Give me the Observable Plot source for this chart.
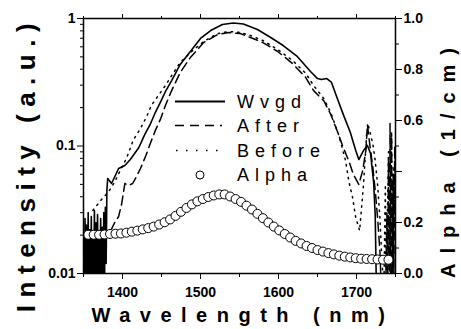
<!DOCTYPE html>
<html><head><meta charset="utf-8">
<script src="https://cdn.jsdelivr.net/npm/d3@7"></script>
<script src="https://cdn.jsdelivr.net/npm/@observablehq/plot@0.6"></script>
<style>body{margin:0;background:#fff} svg{display:block}</style>
</head><body><div id="chart"></div>
<script>
// Wvgd (solid) : wavelength (nm), intensity (a.u.)
const wvgdWl = [1350,1351,1352,1353,1354,1355,1356,1357,1358,1359,1360,1361,1362,1363,1364,1365,1366,1367,1368,1369,1370,1371,1372,1373,1374,1375,1376,1377,1378,1379,1380,
  1381,1386,1395,1403,1410,1421,1428,1436,1442,1449,1455,1463,1474,1487,1500,1513,1528,1542,1555,1573,1590,1606,1624,1632,1641,1650,1655,1662,1668,1674,1683,1692,1699,1703,1709,1714,1718,1722,1724,1726,1750];
const wvgdI = [0.021,0.006,0.027,0.005,0.024,0.007,0.030,0.005,0.022,0.006,0.028,0.005,0.019,0.008,0.031,0.005,0.025,0.006,0.029,0.005,0.021,0.007,0.027,0.005,0.023,0.006,0.030,0.009,0.033,0.012,0.045,
  0.0556,0.0508,0.0666,0.0703,0.0783,0.0973,0.121,0.150,0.183,0.223,0.267,0.326,0.436,0.551,0.697,0.805,0.897,0.922,0.906,0.820,0.710,0.614,0.504,0.444,0.384,0.338,0.332,0.338,0.315,0.249,0.177,0.128,0.0922,0.0783,0.0922,0.101,0.0873,0.0518,0.0285,0.005,0.005];

// After (dashed)
const afterWl = [1385,1390,1395,1399,1403,1408,1413,1418,1423,1430,1436,1442,1449,1455,1463,1474,1487,1504,1522,1536,1551,1564,1580,1599,1618,1635,1645,1658,1667,1677,1683,1690,1696,1703,1708,1712,1714,1717,1721,1724,1727,1730,1732,1737,1739,1740,1741,1742,1743,1744,1745,1746,1747,1748,1749,1750];
const afterI = [0.0217,0.0251,0.028,0.0354,0.0508,0.049,0.0508,0.0577,0.0666,0.0842,0.106,0.132,0.164,0.208,0.272,0.377,0.494,0.648,0.749,0.777,0.762,0.710,0.648,0.551,0.444,0.344,0.272,0.227,0.177,0.123,0.0973,0.0769,0.0598,0.0499,0.0643,0.0922,0.147,0.103,0.0678,0.0448,0.0275,0.0151,0.007,0.006,0.03,0.006,0.08,0.007,0.15,0.008,0.12,0.009,0.06,0.01,0.1,0.02];

// Before (dotted)
const beforeWl = [1362,1372,1380,1385,1391,1397,1405,1414,1423,1431,1437,1446,1455,1463,1474,1487,1504,1522,1536,1551,1564,1580,1599,1618,1635,1645,1658,1667,1677,1686,1690,1695,1699,1704,1709,1713,1715,1721,1724,1727,1730,1732,1735,1737,1738,1741,1742,1745,1746,1748,1750];
const beforeI = [0.0312,0.0374,0.0424,0.0465,0.0536,0.0643,0.0798,0.112,0.137,0.170,0.208,0.249,0.298,0.357,0.452,0.541,0.660,0.762,0.791,0.777,0.736,0.672,0.571,0.469,0.371,0.298,0.236,0.183,0.123,0.0769,0.0536,0.0394,0.0275,0.0217,0.0499,0.123,0.147,0.103,0.0769,0.0499,0.0275,0.0151,0.007,0.05,0.007,0.09,0.008,0.13,0.009,0.07,0.02];

// Alpha (circles, right axis, 1/cm)
const alphaWl = [1356,1363,1370,1377,1384,1391,1398,1405,1412,1419,1426,1433,1440,1447,1454,1461,1468,1475,1482,1489,1496,1503,1510,1517,1524,1531,1538,1545,1552,1559,1566,1573,1580,1587,1594,1601,1608,1615,1622,1629,1636,1643,1650,1657,1664,1671,1678,1685,1692,1699,1706,1713,1720,1727,1734,1741];
const alphaV = [0.152,0.152,0.152,0.153,0.155,0.156,0.157,0.160,0.164,0.168,0.173,0.178,0.184,0.192,0.201,0.212,0.226,0.242,0.257,0.271,0.283,0.292,0.300,0.306,0.310,0.310,0.302,0.292,0.281,0.266,0.251,0.234,0.217,0.200,0.184,0.169,0.155,0.141,0.128,0.118,0.108,0.100,0.092,0.086,0.080,0.075,0.070,0.066,0.063,0.060,0.058,0.057,0.056,0.055,0.054,0.054];

// Ticks
const xMajor = [1400,1500,1600,1700];
const xMinor = [1350,1450,1550,1650,1750];
const yMajor = [0.01,0.1,1];
const yMajorLabels = ["0.01","0.1","1"];
const yMinor = [0.02,0.03,0.04,0.05,0.06,0.07,0.08,0.09,0.2,0.3,0.4,0.5,0.6,0.7,0.8,0.9];
const aMajor = [0,0.2,0.4,0.6,0.8,1.0];
const aMajorLabels = ["0.0","0.2","0.4","0.6","0.8","1.0"];
const aMinor = [0.1,0.3,0.5,0.7,0.9];

// right axis (linear 0..1) mapped onto the log intensity scale (0.01..1)
const toLog = a => Math.pow(10, -2 + 2 * a);

const wvgd = wvgdWl.map((x, i) => ({x, y: wvgdI[i]}));
const after = afterWl.map((x, i) => ({x, y: afterI[i]}));
const before = beforeWl.map((x, i) => ({x, y: beforeI[i]}));
const alpha = alphaWl.map((x, i) => ({x, y: toLog(alphaV[i])}));

const aTickVals = aMajor.map(toLog);
const chart = Plot.plot({
  width: 461, height: 329,
  marginLeft: 83, marginRight: 66, marginTop: 18, marginBottom: 56,
  style: {fontFamily: "'Liberation Sans', Arial, sans-serif", fontWeight: "bold", fontSize: "14px", color: "black", background: "white"},
  x: {domain: [1350, 1750], label: null},
  y: {type: "log", domain: [0.01, 1], label: null},
  marks: [
    Plot.line(wvgd, {x: "x", y: "y", stroke: "black", strokeWidth: 1.6, clip: true}),
    Plot.line(after, {x: "x", y: "y", stroke: "black", strokeWidth: 1.5, strokeDasharray: "9,5", clip: true}),
    Plot.line(before, {x: "x", y: "y", stroke: "black", strokeWidth: 1.5, strokeDasharray: "1.5,5", clip: true}),
    Plot.dot(alpha, {x: "x", y: "y", r: 4.5, fill: "white", stroke: "black", strokeWidth: 1}),
    Plot.frame({stroke: "black", strokeWidth: 1.5}),
    Plot.axisX({ticks: xMajor, tickSize: 6, tickPadding: 8, tickFormat: d => String(d), fontSize: 14, label: null}),
    Plot.axisX({ticks: xMinor, tickSize: 4, tickFormat: () => "", label: null}),
    Plot.axisX({anchor: "top", ticks: xMajor, tickSize: 5, tickFormat: () => "", label: null}),
    Plot.axisX({anchor: "top", ticks: xMinor, tickSize: 3, tickFormat: () => "", label: null}),
    Plot.axisY({ticks: yMajor, tickSize: 6, tickPadding: 2, tickFormat: d => yMajorLabels[yMajor.indexOf(d)], fontSize: 14, label: null}),
    Plot.axisY({ticks: yMinor, tickSize: 3, tickFormat: () => "", label: null}),
    Plot.axisY({anchor: "right", ticks: aTickVals, tickSize: 6, tickPadding: 2, tickFormat: d => aMajorLabels[aTickVals.indexOf(d)], fontSize: 14, label: null}),
    Plot.axisY({anchor: "right", ticks: aMinor.map(toLog), tickSize: 3, tickFormat: () => "", label: null})
  ]
});

const svg = d3.select(chart);
const font = "'Liberation Sans', Arial, sans-serif";
svg.append("text").attr("transform", "translate(35,164) rotate(-90)")
  .attr("text-anchor", "middle").attr("font-family", font).attr("font-weight", "bold")
  .attr("font-size", 26).attr("letter-spacing", 7.5).attr("fill", "black").text("Intensity (a.u.)");
svg.append("text").attr("x", 243).attr("y", 322)
  .attr("text-anchor", "middle").attr("font-family", font).attr("font-weight", "bold")
  .attr("font-size", 20).attr("letter-spacing", 9.5).attr("fill", "black").text("Wavelength (nm)");
svg.append("text").attr("transform", "translate(455,158) rotate(-90)")
  .attr("text-anchor", "middle").attr("font-family", font).attr("font-weight", "bold")
  .attr("font-size", 20).attr("letter-spacing", 10).attr("fill", "black").text("Alpha (1/cm)");

// legend
const lg = svg.append("g").attr("font-family", font).attr("font-weight", "normal")
  .attr("font-size", 18).attr("letter-spacing", 6).attr("fill", "black").attr("text-anchor", "start");
const names = ["Wvgd", "After", "Before", "Alpha"];
const rowY = [101.5, 125.5, 150.5, 175];
names.forEach((n, i) => lg.append("text").attr("x", 237).attr("y", rowY[i] + 6).attr("text-anchor", "start").text(n));
lg.append("line").attr("x1", 175).attr("x2", 225).attr("y1", rowY[0]).attr("y2", rowY[0]).attr("stroke", "black").attr("stroke-width", 2);
lg.append("line").attr("x1", 175).attr("x2", 222).attr("y1", rowY[1]).attr("y2", rowY[1]).attr("stroke", "black").attr("stroke-width", 1.5).attr("stroke-dasharray", "9,6");
lg.append("line").attr("x1", 176).attr("x2", 220).attr("y1", rowY[2]).attr("y2", rowY[2]).attr("stroke", "black").attr("stroke-width", 1.5).attr("stroke-dasharray", "1.5,8.5");
lg.append("circle").attr("cx", 200).attr("cy", rowY[3]).attr("r", 4).attr("fill", "white").attr("stroke", "black");

document.getElementById("chart").appendChild(chart);
</script>
</body></html>
